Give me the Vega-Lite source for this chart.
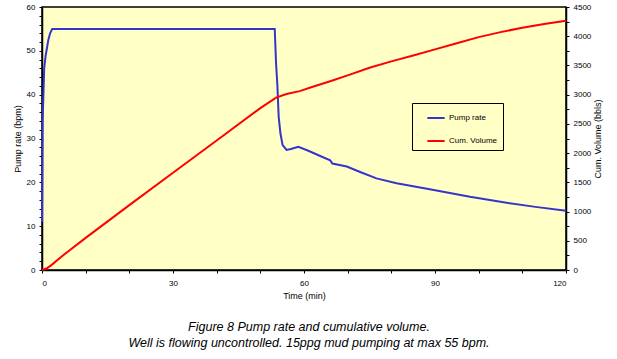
{
  "$schema": "https://vega.github.io/schema/vega-lite/v6.json",
  "width": 524,
  "height": 263,
  "autosize": {"type": "none"},
  "padding": {"left": 42, "top": 7, "right": 51, "bottom": 89},
  "background": "white",
  "config": {
    "view": {"fill": "#FFFFC6", "stroke": "black", "strokeWidth": 1.5},
    "font": "Liberation Sans",
    "axis": {
      "grid": false,
      "domainColor": "black",
      "domainWidth": 1.5,
      "tickColor": "black",
      "tickSize": 3,
      "labelColor": "black",
      "labelFont": "Liberation Sans",
      "labelFontSize": 8,
      "titleFont": "Liberation Sans",
      "titleFontSize": 9,
      "titleFontWeight": "normal",
      "titleColor": "black"
    }
  },
  "title": {
    "text": "Figure 8 Pump rate and cumulative volume.",
    "subtitle": "Well is flowing uncontrolled. 15ppg mud pumping at max 55 bpm.",
    "orient": "bottom",
    "anchor": "middle",
    "dx": 5,
    "offset": 21,
    "font": "Liberation Sans",
    "fontSize": 12.5,
    "fontStyle": "italic",
    "fontWeight": "normal",
    "color": "black",
    "subtitleFont": "Liberation Sans",
    "subtitleFontSize": 12.5,
    "subtitleFontStyle": "italic",
    "subtitleColor": "black",
    "subtitlePadding": 3
  },
  "datasets": {
    "rate": [
      {"t": 0, "v": 11, "s": "Pump rate"}, {"t": 0.15, "v": 34, "s": "Pump rate"}, {"t": 0.5, "v": 46, "s": "Pump rate"}, {"t": 0.85, "v": 49, "s": "Pump rate"},
      {"t": 1.45, "v": 52.5, "s": "Pump rate"}, {"t": 1.85, "v": 54, "s": "Pump rate"}, {"t": 2.35, "v": 55, "s": "Pump rate"}, {"t": 53.3, "v": 55, "s": "Pump rate"},
      {"t": 53.4, "v": 52.3, "s": "Pump rate"}, {"t": 53.6, "v": 47.2, "s": "Pump rate"}, {"t": 53.9, "v": 42.2, "s": "Pump rate"}, {"t": 54.2, "v": 35, "s": "Pump rate"},
      {"t": 54.6, "v": 31.2, "s": "Pump rate"}, {"t": 55.1, "v": 28.5, "s": "Pump rate"}, {"t": 56.0, "v": 27.4, "s": "Pump rate"}, {"t": 57, "v": 27.6, "s": "Pump rate"},
      {"t": 58.7, "v": 28.1, "s": "Pump rate"}, {"t": 61, "v": 27.2, "s": "Pump rate"}, {"t": 63.7, "v": 26.0, "s": "Pump rate"}, {"t": 66.0, "v": 25.0, "s": "Pump rate"},
      {"t": 66.5, "v": 24.3, "s": "Pump rate"}, {"t": 69.8, "v": 23.6, "s": "Pump rate"}, {"t": 73, "v": 22.3, "s": "Pump rate"}, {"t": 76.6, "v": 20.9, "s": "Pump rate"},
      {"t": 81.2, "v": 19.8, "s": "Pump rate"}, {"t": 88.8, "v": 18.4, "s": "Pump rate"}, {"t": 98.0, "v": 16.7, "s": "Pump rate"}, {"t": 106.4, "v": 15.35, "s": "Pump rate"},
      {"t": 113, "v": 14.4, "s": "Pump rate"}, {"t": 120, "v": 13.5, "s": "Pump rate"}
    ],
    "vol": [
      {"t": 0, "v": 0, "s": "Cum. Volume"}, {"t": 1, "v": 25, "s": "Cum. Volume"}, {"t": 2, "v": 75, "s": "Cum. Volume"}, {"t": 5, "v": 260, "s": "Cum. Volume"},
      {"t": 10, "v": 550, "s": "Cum. Volume"}, {"t": 20, "v": 1110, "s": "Cum. Volume"}, {"t": 30, "v": 1665, "s": "Cum. Volume"}, {"t": 40, "v": 2215, "s": "Cum. Volume"},
      {"t": 50, "v": 2770, "s": "Cum. Volume"}, {"t": 53.6, "v": 2950, "s": "Cum. Volume"}, {"t": 56, "v": 3010, "s": "Cum. Volume"}, {"t": 59, "v": 3060, "s": "Cum. Volume"},
      {"t": 62, "v": 3135, "s": "Cum. Volume"}, {"t": 66, "v": 3230, "s": "Cum. Volume"}, {"t": 70, "v": 3330, "s": "Cum. Volume"}, {"t": 75, "v": 3460, "s": "Cum. Volume"},
      {"t": 80, "v": 3570, "s": "Cum. Volume"}, {"t": 85, "v": 3670, "s": "Cum. Volume"}, {"t": 90, "v": 3775, "s": "Cum. Volume"}, {"t": 95, "v": 3880, "s": "Cum. Volume"},
      {"t": 100, "v": 3985, "s": "Cum. Volume"}, {"t": 105, "v": 4070, "s": "Cum. Volume"}, {"t": 110, "v": 4145, "s": "Cum. Volume"}, {"t": 115, "v": 4210, "s": "Cum. Volume"},
      {"t": 120, "v": 4265, "s": "Cum. Volume"}
    ]
  },
  "layer": [
    {
      "data": {"name": "rate"},
      "mark": {"type": "line", "strokeWidth": 2, "interpolate": "linear"},
      "encoding": {
        "x": {
          "field": "t", "type": "quantitative",
          "scale": {"domain": [0, 120], "nice": false},
          "axis": {
            "title": "Time (min)",
            "values": [0,5,10,15,20,25,30,35,40,45,50,55,60,65,70,75,80,85,90,95,100,105,110,115,120],
            "labelExpr": "datum.value % 30 === 0 ? datum.label : ''",
            "labelPadding": 6,
            "titlePadding": 4
          }
        },
        "y": {
          "field": "v", "type": "quantitative",
          "scale": {"domain": [0, 60], "nice": false},
          "axis": {
            "title": "Pump rate (bpm)",
            "orient": "left",
            "values": [0,2,4,6,8,10,12,14,16,18,20,22,24,26,28,30,32,34,36,38,40,42,44,46,48,50,52,54,56,58,60],
            "labelExpr": "datum.value % 10 === 0 ? datum.label : ''",
            "labelPadding": 4,
            "titlePadding": 4
          }
        },
        "color": {
          "field": "s",
          "type": "nominal",
          "scale": {"domain": ["Pump rate", "Cum. Volume"], "range": ["#3535cc", "#ff0000"]},
          "legend": {
            "title": null,
            "orient": "none",
            "legendX": 370,
            "legendY": 96,
            "fillColor": "#FFFFC6",
            "strokeColor": "black",
            "padding": 5,
            "symbolType": "stroke",
            "symbolStrokeWidth": 2,
            "symbolSize": 300,
            "symbolOffset": 9,
            "labelOffset": 3,
            "labelFont": "Liberation Sans",
            "labelFontSize": 8,
            "labelColor": "black",
            "rowPadding": 9
          }
        }
      }
    },
    {
      "data": {"name": "vol"},
      "mark": {"type": "line", "strokeWidth": 2, "interpolate": "linear"},
      "encoding": {
        "x": {"field": "t", "type": "quantitative"},
        "y": {
          "field": "v", "type": "quantitative",
          "scale": {"domain": [0, 4500], "nice": false},
          "axis": {
            "title": "Cum. Volume (bbls)",
            "orient": "right",
            "titleAngle": 270,
            "values": [0,250,500,750,1000,1250,1500,1750,2000,2250,2500,2750,3000,3250,3500,3750,4000,4250,4500],
            "labelExpr": "datum.value % 500 === 0 ? format(datum.value, 'd') : ''",
            "labelPadding": 4,
            "titlePadding": 12
          }
        },
        "color": {"field": "s", "type": "nominal"}
      }
    }
  ],
  "resolve": {"scale": {"y": "independent"}}
}
